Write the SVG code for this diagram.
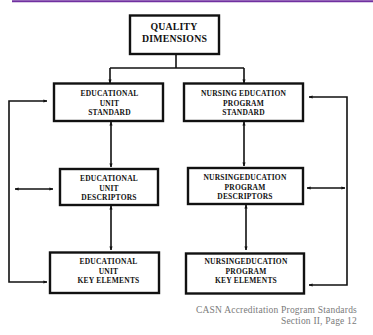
<svg xmlns="http://www.w3.org/2000/svg" width="373" height="335" viewBox="0 0 373 335">
  <style>
    .box { fill: #ffffff; stroke: #111111; stroke-width: 2.4; }
    .lbl { font-family: "Liberation Serif", "Times New Roman", serif; font-weight: bold; font-size: 7.5px; letter-spacing: 0.2px; fill: #111111; text-anchor: middle; }
    .big { font-size: 9.8px; letter-spacing: 0.2px; }
    .wire { fill: none; stroke: #111111; stroke-width: 1.6; }
    .foot { font-family: "Liberation Serif", "Times New Roman", serif; font-size: 9.5px; letter-spacing: 0.2px; fill: #7a7a7a; text-anchor: end; }
  </style>
  <defs>
    <marker id="tip" viewBox="0 0 10 10" refX="9" refY="5" markerWidth="4" markerHeight="4" orient="auto-start-reverse" markerUnits="userSpaceOnUse">
      <path d="M0,1 L10,5 L0,9 Z" fill="#111111"/>
    </marker>
  </defs>

  <rect width="373" height="335" fill="#ffffff"/>
  <!-- page header rule -->
  <line x1="12" y1="1.2" x2="373" y2="1.2" stroke="#7030a0" stroke-width="2"/>

  <g id="connectors">
    <!-- from the top box down to both standards -->
    <path class="wire" d="M176,54 V68"/>
    <path class="wire" d="M110,68 H244"/>
    <path class="wire" d="M110,68 V83" marker-end="url(#tip)"/>
    <path class="wire" d="M244,68 V83" marker-end="url(#tip)"/>
    <!-- standard <-> descriptors -->
    <path class="wire" d="M111,122 V167" marker-start="url(#tip)" marker-end="url(#tip)"/>
    <path class="wire" d="M244,122 V166" marker-start="url(#tip)" marker-end="url(#tip)"/>
    <!-- descriptors <-> key elements -->
    <path class="wire" d="M111,206 V250" marker-start="url(#tip)" marker-end="url(#tip)"/>
    <path class="wire" d="M246,205 V250" marker-start="url(#tip)" marker-end="url(#tip)"/>
    <!-- side links to the feedback loops -->
    <path class="wire" d="M15,189 H53" marker-start="url(#tip)" marker-end="url(#tip)"/>
    <path class="wire" d="M307,188 H345" marker-start="url(#tip)" marker-end="url(#tip)"/>
    <!-- left feedback loop -->
    <path class="wire" d="M47,282 H9 V101 H47" marker-start="url(#tip)" marker-end="url(#tip)"/>
    <!-- right feedback loop -->
    <path class="wire" d="M309,97 H347 V285 H309" marker-start="url(#tip)" marker-end="url(#tip)"/>
  </g>

  <g id="quality-dimensions">
    <rect class="box" x="130" y="15.5" width="89" height="38.5"/>
    <text class="lbl big" x="174" y="30">QUALITY</text>
    <text class="lbl big" x="174.5" y="41.5">DIMENSIONS</text>
  </g>

  <g id="edu-unit-standard">
    <rect class="box" x="54" y="83.5" width="109" height="37.5"/>
    <text class="lbl" x="109.5" y="96">EDUCATIONAL</text>
    <text class="lbl" x="109.5" y="105.5">UNIT</text>
    <text class="lbl" x="109.5" y="115">STANDARD</text>
  </g>

  <g id="nursing-program-standard">
    <rect class="box" x="184" y="83.5" width="119" height="37.5"/>
    <text class="lbl" x="243.5" y="96">NURSING  EDUCATION</text>
    <text class="lbl" x="243.5" y="105.5">PROGRAM</text>
    <text class="lbl" x="243.5" y="115">STANDARD</text>
  </g>

  <g id="edu-unit-descriptors">
    <rect class="box" x="60" y="169" width="98" height="36"/>
    <text class="lbl" x="109" y="181">EDUCATIONAL</text>
    <text class="lbl" x="109" y="190.5">UNIT</text>
    <text class="lbl" x="109" y="200">DESCRIPTORS</text>
  </g>

  <g id="nursing-program-descriptors">
    <rect class="box" x="188" y="168" width="115" height="36"/>
    <text class="lbl" x="245" y="180">NURSINGEDUCATION</text>
    <text class="lbl" x="245" y="189.5">PROGRAM</text>
    <text class="lbl" x="245" y="199">DESCRIPTORS</text>
  </g>

  <g id="edu-unit-key-elements">
    <rect class="box" x="50" y="252.5" width="109" height="40.5"/>
    <text class="lbl" x="108.5" y="264">EDUCATIONAL</text>
    <text class="lbl" x="108.5" y="273.5">UNIT</text>
    <text class="lbl" x="108.5" y="283">KEY ELEMENTS</text>
  </g>

  <g id="nursing-program-key-elements">
    <rect class="box" x="186" y="253.5" width="118" height="40"/>
    <text class="lbl" x="246" y="264">NURSINGEDUCATION</text>
    <text class="lbl" x="246" y="273.5">PROGRAM</text>
    <text class="lbl" x="246" y="283">KEY ELEMENTS</text>
  </g>

  <g id="footer">
    <text class="foot" x="357" y="313">CASN Accreditation Program Standards</text>
    <text class="foot" x="357" y="324">Section II, Page 12</text>
  </g>
</svg>
